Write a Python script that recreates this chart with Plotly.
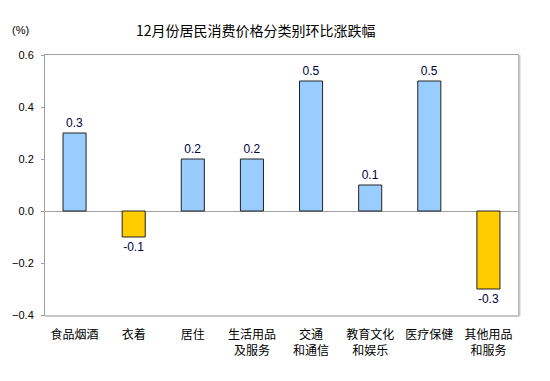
import plotly.graph_objects as go

categories = ["食品烟酒", "衣着", "居住", "生活用品<br>及服务", "交通<br>和通信", "教育文化<br>和娱乐", "医疗保健", "其他用品<br>和服务"]
values = [0.3, -0.1, 0.2, 0.2, 0.5, 0.1, 0.5, -0.3]
value_labels = ["0.3", "-0.1", "0.2", "0.2", "0.5", "0.1", "0.5", "-0.3"]
y_ticks = [-0.4, -0.2, 0.0, 0.2, 0.4, 0.6]

colors = ["#99CCFF" if v >= 0 else "#FFCC00" for v in values]

fig = go.Figure(go.Bar(
    x=categories, y=values,
    marker=dict(color=colors, line=dict(color="#222222", width=1)),
    width=0.39,
    text=value_labels, textposition="outside",
    textfont=dict(family="Liberation Sans, Arial", size=12, color="#000044"),
    cliponaxis=False,
))

L, R, T, B = 42, 32, 55, 66
pw, ph = 550 - L - R, 381 - T - B

def px_to_paper(xp, yp):
    return (xp - L) / pw, (381 - B - yp) / ph

tx, ty = px_to_paper(254, 30)
px_, py_ = px_to_paper(7, 30)

fig.update_layout(
    width=550, height=381,
    margin=dict(l=L, r=R, t=T, b=B),
    paper_bgcolor="white", plot_bgcolor="white",
    showlegend=False,
    bargap=0.61,
    font=dict(family="Noto Sans CJK SC", color="black"),
    xaxis=dict(
        showline=True, linecolor="#A0A0A0", linewidth=1, mirror=True,
        ticks="", tickfont=dict(family="Noto Sans CJK SC", size=12, color="black"),
        ticklabelstandoff=9,
    ),
    yaxis=dict(
        range=[-0.4, 0.6], tickvals=y_ticks, tickformat=".1f",
        showline=True, linecolor="#A0A0A0", linewidth=1, mirror=True,
        ticks="outside", ticklen=3, tickcolor="#A0A0A0",
        showgrid=False, zeroline=True, zerolinecolor="#A0A0A0", zerolinewidth=1,
        tickfont=dict(family="Liberation Sans, Arial", size=11, color="black"),
        ticklabelstandoff=5,
    ),
    annotations=[
        dict(text="12月份居民消费价格分类别环比涨跌幅", x=tx, y=ty, xref="paper", yref="paper",
             xanchor="center", yanchor="middle",
             showarrow=False, font=dict(family="Noto Sans CJK SC", size=14, color="black")),
        dict(text="(%)", x=px_, y=py_, xref="paper", yref="paper",
             xanchor="left", yanchor="middle", showarrow=False,
             font=dict(family="Liberation Sans, Arial", size=11, color="black")),
    ],
)
# subtle shadow on right/bottom edges of the frame
fig.add_shape(type="line", xref="paper", yref="paper", x0=1.003, x1=1.003, y0=-0.004, y1=1,
              line=dict(color="#C8C8C8", width=2))
fig.add_shape(type="line", xref="paper", yref="paper", x0=0, x1=1.003, y0=-0.004, y1=-0.004,
              line=dict(color="#C8C8C8", width=2))

fig.write_html("out.html", config={"displayModeBar": False},
               post_script="document.body.style.margin='0';document.body.style.padding='0';")
